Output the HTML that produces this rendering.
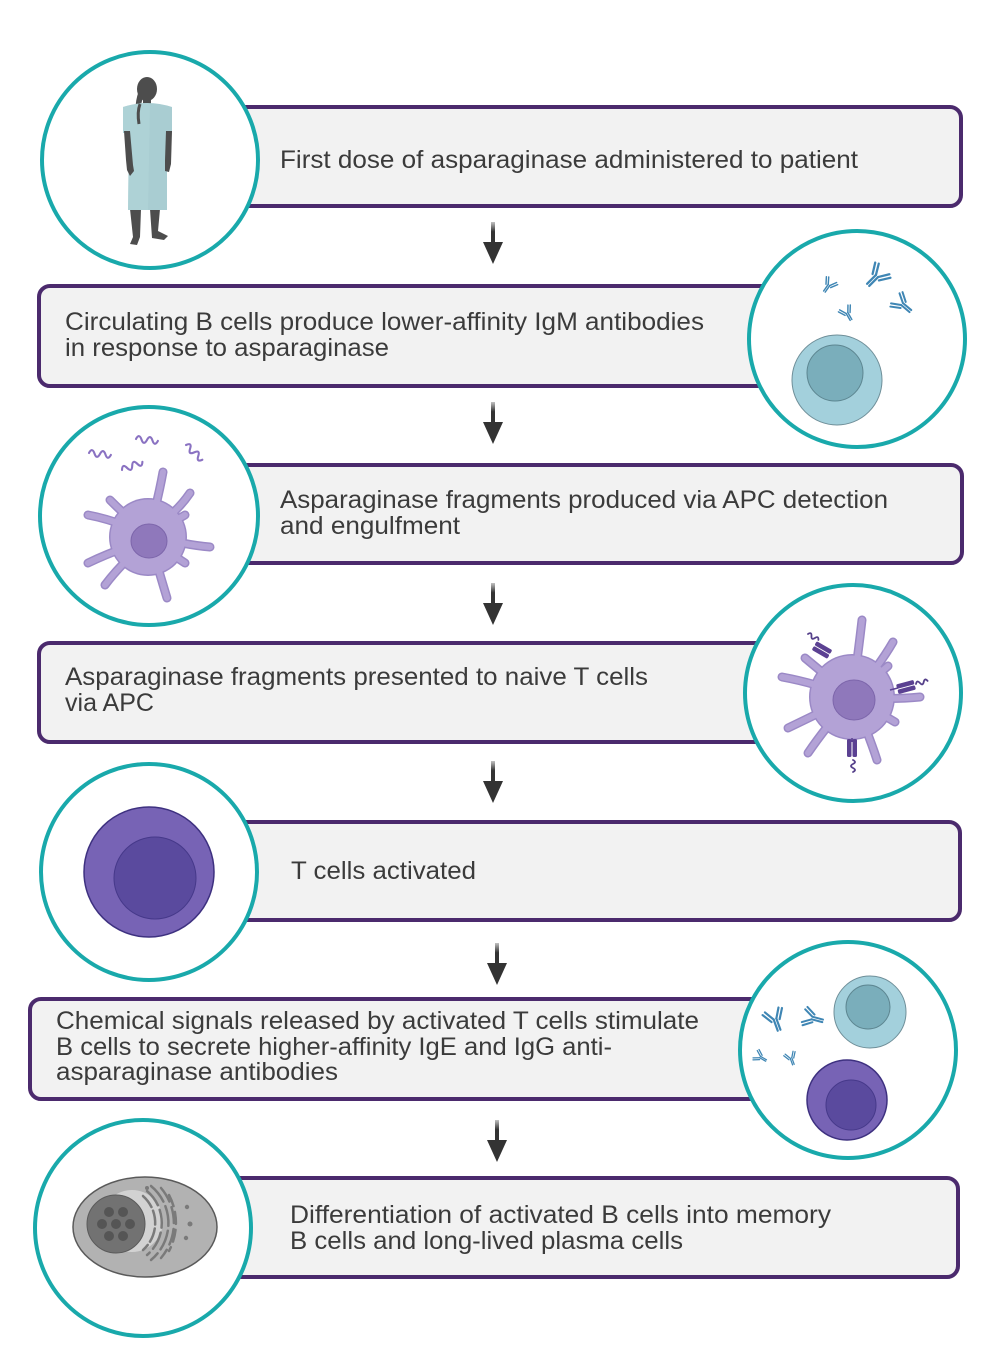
<!DOCTYPE html>
<html><head><meta charset="utf-8"><style>
html,body{margin:0;padding:0;background:#fff;}
svg{display:block;}
</style></head><body>
<svg width="1000" height="1370" viewBox="0 0 1000 1370" xmlns="http://www.w3.org/2000/svg" xmlns:xlink="http://www.w3.org/1999/xlink">
<defs>
  <g id="ab" fill="none" stroke="#3f86b4" stroke-width="1.8" stroke-linecap="round">
    <path d="M-1.2 0 V10 M1.2 0 V10"/>
    <path d="M-1.2 0 L-6 -8 M-3.6 1.4 L-8.6 -6.6"/>
    <path d="M1.2 0 L6 -8 M3.6 1.4 L8.6 -6.6"/>
  </g>
  <path id="sq" d="M0 0 q2.2 -5 4.4 0 t4.4 0 t4.4 0 t4.4 0" fill="none" stroke="#8a72c2" stroke-width="1.7" stroke-linecap="round"/>
  <path id="sq2" d="M0 0 q2 -4 4 0 t4 0 t4 0" fill="none" stroke="#55408a" stroke-width="1.8" stroke-linecap="round"/>
  <linearGradient id="sh" x1="0" y1="0" x2="0" y2="1">
    <stop offset="0" stop-color="#333" stop-opacity="0.3"/>
    <stop offset="0.4" stop-color="#333"/>
  </linearGradient>
  <g id="arrow">
    <rect x="-2" y="0" width="4" height="24" fill="url(#sh)"/>
    <path d="M-10 20 L10 20 L0 42 Z" fill="#333"/>
  </g>
</defs>

<rect width="1000" height="1370" fill="#fff"/>

<!-- Boxes -->
<g fill="#f2f2f2" stroke="#4b2a6d" stroke-width="4">
  <rect x="200" y="107" width="761" height="99" rx="11"/>
  <rect x="39" y="286" width="760" height="100" rx="11"/>
  <rect x="200" y="465" width="762" height="98" rx="11"/>
  <rect x="39" y="643" width="760" height="99" rx="11"/>
  <rect x="200" y="822" width="760" height="98" rx="11"/>
  <rect x="30" y="999" width="760" height="100" rx="11"/>
  <rect x="200" y="1178" width="758" height="99" rx="11"/>
</g>

<!-- Text -->
<g font-family="'Liberation Sans', Arial, sans-serif" font-size="25" fill="#3b3b3b">
  <text x="280" y="168" textLength="578" lengthAdjust="spacingAndGlyphs">First dose of asparaginase administered to patient</text>
  <text x="65" y="330" textLength="639" lengthAdjust="spacingAndGlyphs">Circulating B cells produce lower-affinity IgM antibodies</text>
  <text x="65" y="356" textLength="324" lengthAdjust="spacingAndGlyphs">in response to asparaginase</text>
  <text x="280" y="508" textLength="608" lengthAdjust="spacingAndGlyphs">Asparaginase fragments produced via APC detection</text>
  <text x="280" y="534" textLength="180" lengthAdjust="spacingAndGlyphs">and engulfment</text>
  <text x="65" y="685" textLength="583" lengthAdjust="spacingAndGlyphs">Asparaginase fragments presented to naive T cells</text>
  <text x="65" y="711" textLength="89" lengthAdjust="spacingAndGlyphs">via APC</text>
  <text x="291" y="879" textLength="185" lengthAdjust="spacingAndGlyphs">T cells activated</text>
  <text x="56" y="1029" textLength="643" lengthAdjust="spacingAndGlyphs">Chemical signals released by activated T cells stimulate</text>
  <text x="56" y="1055" textLength="556" lengthAdjust="spacingAndGlyphs">B cells to secrete higher-affinity IgE and IgG anti-</text>
  <text x="56" y="1080" textLength="282" lengthAdjust="spacingAndGlyphs">asparaginase antibodies</text>
  <text x="290" y="1223" textLength="541" lengthAdjust="spacingAndGlyphs">Differentiation of activated B cells into memory</text>
  <text x="290" y="1249" textLength="393" lengthAdjust="spacingAndGlyphs">B cells and long-lived plasma cells</text>
</g>

<!-- Arrows -->
<use xlink:href="#arrow" href="#arrow" transform="translate(493,222)"/>
<use xlink:href="#arrow" href="#arrow" transform="translate(493,402)"/>
<use xlink:href="#arrow" href="#arrow" transform="translate(493,583)"/>
<use xlink:href="#arrow" href="#arrow" transform="translate(493,761)"/>
<use xlink:href="#arrow" href="#arrow" transform="translate(497,943)"/>
<use xlink:href="#arrow" href="#arrow" transform="translate(497,1120)"/>

<!-- Circles -->
<g fill="#fff" stroke="#19a9ab" stroke-width="4">
  <circle cx="150" cy="160" r="108"/>
  <circle cx="857" cy="339" r="108"/>
  <circle cx="149" cy="516" r="109"/>
  <circle cx="853" cy="693" r="108"/>
  <circle cx="149" cy="872" r="108"/>
  <circle cx="848" cy="1050" r="108"/>
  <circle cx="143" cy="1228" r="108"/>
</g>

<!-- 1: Patient -->
<g fill="#4d4d4d">
  <ellipse cx="147" cy="89" rx="10" ry="12"/>
  <path d="M140 88 Q133 104 137 122 L141 120 Q139 106 144 96 Z"/>
  <rect x="143" y="96" width="8" height="11"/>
  <path d="M130 209 L141 209 L140 237 L137 245 L130 244 L133 237 Z"/>
  <path d="M150 209 L160 209 L158 231 L168 236 L164 240 L152 238 Z"/>
</g>
<path d="M123 107 Q147 99 172 107 L172 133 L167 133 L167 210 L128 210 L129 133 L123 133 Z" fill="#a9cdd2"/>
<path d="M123 107 Q147 101 150 104 L148 210 L128 210 L129 133 L123 133 Z" fill="#b3d5d9" opacity="0.6"/>
<g fill="#4d4d4d">
  <path d="M124 131 L130 131 L133 165 L134 171 L130 176 L127 170 L126 160 Z"/>
  <path d="M166 131 L172 131 L171 164 L169 172 L165 171 L165 160 Z"/>
</g>
<path d="M140 104 Q137 112 139 124" fill="none" stroke="#4d4d4d" stroke-width="3"/>

<!-- 2: B cell + antibodies -->
<circle cx="837" cy="380" r="45" fill="#a3d0dc" stroke="#6f8f99" stroke-width="1"/>
<circle cx="835" cy="373" r="28" fill="#7aaebb" stroke="#5d8691" stroke-width="1"/>
<use href="#ab" xlink:href="#ab" transform="translate(877,276) rotate(45) scale(1.25)"/>
<use href="#ab" xlink:href="#ab" transform="translate(902,304) rotate(-50) scale(1.1)"/>
<use href="#ab" xlink:href="#ab" transform="translate(829,285) rotate(35) scale(0.8)"/>
<use href="#ab" xlink:href="#ab" transform="translate(847,313) rotate(-30) scale(0.8)"/>

<!-- 3: APC with squiggles -->
<g stroke-linecap="round">
  <g stroke="#9b89c6" stroke-width="9" fill="none">
    <path d="M148 535 Q158 500 163 472"/><path d="M150 530 Q175 515 190 493"/><path d="M148 535 Q115 520 88 515"/>
    <path d="M148 535 Q185 545 210 547"/><path d="M148 540 Q115 550 88 563"/><path d="M148 540 Q120 565 105 585"/>
    <path d="M150 540 Q160 575 167 598"/><path d="M148 535 Q125 515 110 500"/><path d="M150 535 L185 515"/>
    <path d="M150 540 L185 563"/>
  </g>
  <circle cx="148" cy="537" r="39" fill="#9b89c6"/>
  <g stroke="#b3a2d6" stroke-width="6" fill="none">
    <path d="M148 535 Q158 500 163 472"/><path d="M150 530 Q175 515 190 493"/><path d="M148 535 Q115 520 88 515"/>
    <path d="M148 535 Q185 545 210 547"/><path d="M148 540 Q115 550 88 563"/><path d="M148 540 Q120 565 105 585"/>
    <path d="M150 540 Q160 575 167 598"/><path d="M148 535 Q125 515 110 500"/><path d="M150 535 L185 515"/>
    <path d="M150 540 L185 563"/>
  </g>
  <circle cx="148" cy="537" r="37.5" fill="#b3a2d6"/>
  <ellipse cx="149" cy="541" rx="18" ry="17" fill="#8f78bb" stroke="#7d66ab" stroke-width="1"/>
</g>
<use href="#sq" xlink:href="#sq" transform="translate(89,453) rotate(5) scale(1.25)"/>
<use href="#sq" xlink:href="#sq" transform="translate(136,439) rotate(5) scale(1.25)"/>
<use href="#sq" xlink:href="#sq" transform="translate(122,470) rotate(-22) scale(1.25)"/>
<use href="#sq" xlink:href="#sq" transform="translate(186,445) rotate(42) scale(1.25)"/>

<!-- 4: APC presenting -->
<g stroke-linecap="round">
  <g stroke="#9b89c6" stroke-width="9" fill="none">
    <path d="M852 697 Q858 655 862 620"/><path d="M852 697 Q878 668 893 642"/><path d="M852 697 L888 666"/>
    <path d="M852 697 Q890 700 920 697"/><path d="M852 697 L895 722"/><path d="M852 697 Q868 732 877 760"/>
    <path d="M852 697 Q825 728 808 753"/><path d="M852 697 Q815 715 788 728"/><path d="M852 697 Q815 683 782 677"/>
    <path d="M852 697 L805 658"/>
  </g>
  <circle cx="852" cy="697" r="43" fill="#9b89c6"/>
  <g stroke="#b3a2d6" stroke-width="6" fill="none">
    <path d="M852 697 Q858 655 862 620"/><path d="M852 697 Q878 668 893 642"/><path d="M852 697 L888 666"/>
    <path d="M852 697 Q890 700 920 697"/><path d="M852 697 L895 722"/><path d="M852 697 Q868 732 877 760"/>
    <path d="M852 697 Q825 728 808 753"/><path d="M852 697 Q815 715 788 728"/><path d="M852 697 Q815 683 782 677"/>
    <path d="M852 697 L805 658"/>
  </g>
  <circle cx="852" cy="697" r="41.5" fill="#b3a2d6"/>
  <ellipse cx="854" cy="700" rx="21" ry="20" fill="#8f78bb" stroke="#7d66ab" stroke-width="1"/>
</g>
<g fill="#5b4192">
  <g transform="translate(822,650) rotate(30)">
    <rect x="-9" y="-5" width="18" height="4.5" rx="1.5"/><rect x="-9" y="0.5" width="18" height="4.5" rx="1.5"/>
  </g>
  <g transform="translate(906,687) rotate(-15)">
    <rect x="-9" y="-5" width="18" height="4.5" rx="1.5"/><rect x="-9" y="0.5" width="18" height="4.5" rx="1.5"/>
  </g>
  <g transform="translate(852,748) rotate(90)">
    <rect x="-9" y="-5" width="18" height="4.5" rx="1.5"/><rect x="-9" y="0.5" width="18" height="4.5" rx="1.5"/>
  </g>
</g>
<use href="#sq2" xlink:href="#sq2" transform="translate(808,634) rotate(30)"/>
<use href="#sq2" xlink:href="#sq2" transform="translate(916,684) rotate(-15)"/>
<use href="#sq2" xlink:href="#sq2" transform="translate(853,760) rotate(90)"/>
<path d="M890 690 L898 688 M852 738 L852 742" stroke="#5b4192" stroke-width="1.5"/>

<!-- 5: T cell -->
<circle cx="149" cy="872" r="65" fill="#7763b5" stroke="#3e3180" stroke-width="1.5"/>
<circle cx="155" cy="878" r="41" fill="#5a4a9e" stroke="#46398a" stroke-width="1"/>

<!-- 6: B cell + T cell + antibodies -->
<circle cx="870" cy="1012" r="36" fill="#a3d0dc" stroke="#6f8f99" stroke-width="1"/>
<circle cx="868" cy="1007" r="22" fill="#7aaebb" stroke="#5d8691" stroke-width="1"/>
<circle cx="847" cy="1100" r="40" fill="#7763b5" stroke="#3e3180" stroke-width="1.5"/>
<circle cx="851" cy="1105" r="25" fill="#5a4a9e" stroke="#46398a" stroke-width="1"/>
<use href="#ab" xlink:href="#ab" transform="translate(775,1019) rotate(-20) scale(1.2)"/>
<use href="#ab" xlink:href="#ab" transform="translate(812,1018) rotate(-75) scale(1.1)"/>
<use href="#ab" xlink:href="#ab" transform="translate(760,1057) rotate(-60) scale(0.7)"/>
<use href="#ab" xlink:href="#ab" transform="translate(791,1058) rotate(-20) scale(0.7)"/>

<!-- 7: Plasma cell -->
<ellipse cx="145" cy="1227" rx="72" ry="50" fill="#b2b2b2" stroke="#5a5a5a" stroke-width="1.5"/>
<circle cx="132" cy="1221" r="31" fill="#d2d2d2"/>
<circle cx="116" cy="1224" r="29" fill="#727272" stroke="#5a5a5a" stroke-width="1"/>
<g fill="#555">
  <circle cx="116" cy="1224" r="5"/>
  <circle cx="130" cy="1224" r="5"/>
  <circle cx="102" cy="1224" r="5"/>
  <circle cx="123" cy="1212" r="5"/>
  <circle cx="109" cy="1212" r="5"/>
  <circle cx="123" cy="1236" r="5"/>
  <circle cx="109" cy="1236" r="5"/>
</g>
<g fill="none" stroke="#7a7a7a" stroke-width="2.5" stroke-linecap="round">
  <path d="M143 1196 A36 36 0 0 1 143 1250" stroke-dasharray="14 4"/>
  <path d="M147 1191 A42 42 0 0 1 147 1255" stroke-dasharray="18 5"/>
  <path d="M151 1186 A48 48 0 0 1 151 1260" stroke-dasharray="20 5"/>
  <path d="M161 1188 A54 54 0 0 1 161 1258" stroke-dasharray="16 6"/>
  <path d="M169 1195 A60 60 0 0 1 169 1251" stroke-dasharray="12 6"/>
</g>
<g fill="#7a7a7a">
  <circle cx="190" cy="1224" r="2.5"/>
  <circle cx="186" cy="1238" r="2.2"/>
  <circle cx="187" cy="1207" r="2.2"/>
  <circle cx="147" cy="1188" r="2"/>
</g>
</svg>
</body></html>
